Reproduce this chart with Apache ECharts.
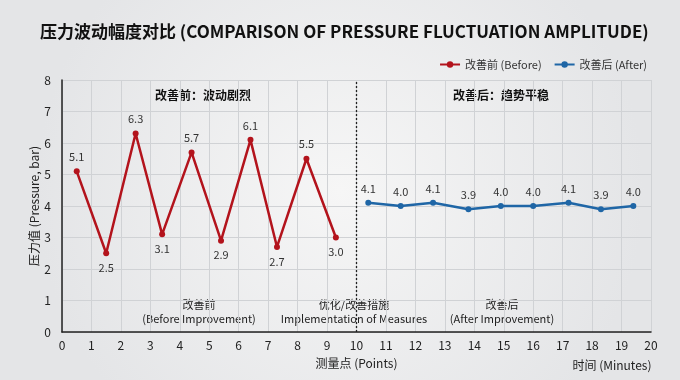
<!DOCTYPE html>
<html><head><meta charset="utf-8">
<script src="https://cdn.jsdelivr.net/npm/echarts@6/dist/echarts.min.js"></script>
<style>html,body{margin:0;padding:0;}#c{width:680px;height:380px;}</style>
</head><body><div id="c"></div>
<script>
var beforeX = [0.5, 1.5, 2.5, 3.4, 4.4, 5.4, 6.4, 7.3, 8.3, 9.3];
var beforeY = [5.1, 2.5, 6.3, 3.1, 5.7, 2.9, 6.1, 2.7, 5.5, 3.0];
var afterX = [10.4, 11.5, 12.6, 13.8, 14.9, 16.0, 17.2, 18.3, 19.4];
var afterY = [4.1, 4.0, 4.1, 3.9, 4.0, 4.0, 4.1, 3.9, 4.0];
var xTicks = {min: 0, max: 20, interval: 1};
var yTicks = {min: 0, max: 8, interval: 1};
var seriesNames = ['改善前 (Before)', '改善后 (After)'];
var FONT = '"Noto Sans CJK SC", "Noto Sans", sans-serif';

var red = '#b3131c', blue = '#1f66a6';
var chart = echarts.init(document.getElementById('c'));
var beforeData = beforeX.map(function (x, i) {
  return {value: [x, beforeY[i]], label: {position: i % 2 === 0 ? 'top' : 'bottom'}};
});
var afterData = afterX.map(function (x, i) { return [x, afterY[i]]; });

chart.setOption({
  backgroundColor: {type: 'radial', x: 0.5, y: 0.5, r: 0.8,
    colorStops: [{offset: 0, color: '#f6f6f6'}, {offset: 1, color: '#e4e5e7'}]},
  textStyle: {fontFamily: FONT},
  title: {
    text: '压力波动幅度对比 (COMPARISON OF PRESSURE FLUCTUATION AMPLITUDE)',
    left: 35, top: 18,
    textStyle: {fontSize: 17, fontWeight: 'bold', color: '#111', fontFamily: FONT}
  },
  legend: {
    right: 28, top: 54, itemWidth: 20, itemHeight: 8, itemGap: 12,
    textStyle: {fontSize: 11, color: '#333'},
    data: seriesNames
  },
  grid: {left: 62, right: 29, top: 80, bottom: 48},
  xAxis: {
    type: 'value', min: xTicks.min, max: xTicks.max, interval: xTicks.interval,
    name: '测量点 (Points)', nameLocation: 'middle', nameGap: 25,
    nameTextStyle: {fontSize: 12, color: '#222'},
    axisLine: {show: true, lineStyle: {color: '#222', width: 1.5}},
    axisTick: {show: false},
    axisLabel: {fontSize: 12, color: '#222', margin: 7},
    splitLine: {show: true, lineStyle: {color: '#d0d2d5'}}
  },
  yAxis: {
    type: 'value', min: yTicks.min, max: yTicks.max, interval: yTicks.interval,
    name: '压力值 (Pressure, bar)', nameLocation: 'middle', nameGap: 22,
    nameMoveOverlap: false,
    nameTextStyle: {fontSize: 12, color: '#222'},
    axisLine: {show: true, lineStyle: {color: '#222', width: 1.5}},
    axisTick: {show: false},
    axisLabel: {fontSize: 12, color: '#222', margin: 11},
    splitLine: {show: true, lineStyle: {color: '#d0d2d5'}}
  },
  series: [
    {
      name: seriesNames[0], type: 'line', data: beforeData,
      symbol: 'circle', symbolSize: 6,
      itemStyle: {color: red}, lineStyle: {color: red, width: 2.5},
      label: {show: true, fontSize: 11, color: '#333', distance: 6,
        formatter: function (p) { return p.value[1].toFixed(1); }},
      markLine: {
        silent: true, symbol: 'none', label: {show: false},
        lineStyle: {color: '#222', type: [2, 2], width: 1.3},
        data: [{xAxis: 10}]
      },
      z: 3
    },
    {
      name: seriesNames[1], type: 'line', data: afterData,
      symbol: 'circle', symbolSize: 6,
      itemStyle: {color: blue}, lineStyle: {color: blue, width: 2.5},
      label: {show: true, position: 'top', fontSize: 11, color: '#333', distance: 6,
        formatter: function (p) { return p.value[1].toFixed(1); }},
      z: 3
    }
  ],
  graphic: [
    {type: 'text', x: 203, y: 95, style: {text: '改善前：波动剧烈', font: 'bold 12px ' + FONT, fill: '#111', align: 'center', verticalAlign: 'middle'}},
    {type: 'text', x: 501, y: 95, style: {text: '改善后：趋势平稳', font: 'bold 12px ' + FONT, fill: '#111', align: 'center', verticalAlign: 'middle'}},
    {type: 'text', x: 199, y: 312, style: {text: '改善前\n(Before Improvement)', font: '11px ' + FONT, fill: '#222', align: 'center', verticalAlign: 'middle', lineHeight: 14}},
    {type: 'text', x: 354, y: 312, style: {text: '优化/改善措施\nImplementation of Measures', font: '11px ' + FONT, fill: '#222', align: 'center', verticalAlign: 'middle', lineHeight: 14}},
    {type: 'text', x: 502, y: 312, style: {text: '改善后\n(After Improvement)', font: '11px ' + FONT, fill: '#222', align: 'center', verticalAlign: 'middle', lineHeight: 14}},
    {type: 'text', x: 612, y: 365, style: {text: '时间 (Minutes)', font: '12px ' + FONT, fill: '#222', align: 'center', verticalAlign: 'middle'}}
  ]
});
</script></body></html>
